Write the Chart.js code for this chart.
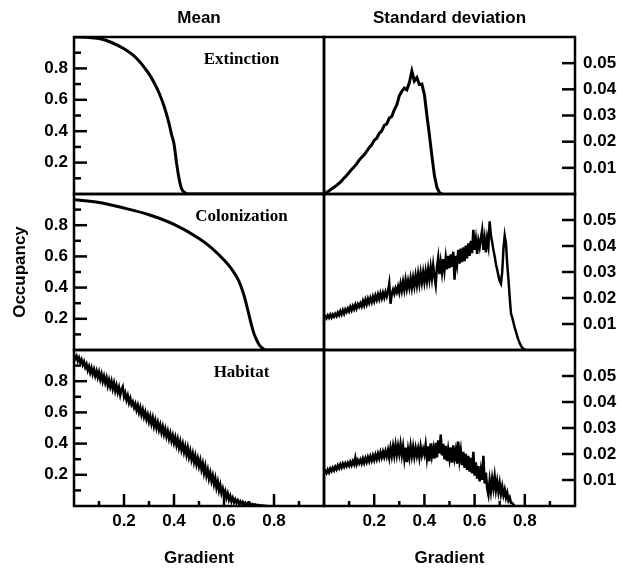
<!DOCTYPE html>
<html>
<head>
<meta charset="utf-8">
<title>Occupancy along a gradient</title>
<script src="https://cdn.jsdelivr.net/npm/chart.js@4.4.0/dist/chart.umd.min.js"></script>
<style>
  html, body { margin: 0; padding: 0; background: #fff; }
  #wrap { position: relative; width: 630px; height: 570px; }
  #wrap canvas { position: absolute; left: 0; top: 0; }
</style>
</head>
<body>
<div id="wrap">
  <canvas id="extMean" width="630" height="570"></canvas>
  <canvas id="extSd" width="630" height="570"></canvas>
  <canvas id="colMean" width="630" height="570"></canvas>
  <canvas id="colSd" width="630" height="570"></canvas>
  <canvas id="habMean" width="630" height="570"></canvas>
  <canvas id="habSd" width="630" height="570"></canvas>
</div>
<script>
// tick values
const gradTicks = [0.2, 0.4, 0.6, 0.8];
const gradMinor = [0.1, 0.3, 0.5, 0.7, 0.9];
const occTicks = [0.2, 0.4, 0.6, 0.8];
const occMinor = [0.1, 0.3, 0.5, 0.7, 0.9];
const sdTicks = [0.01, 0.02, 0.03, 0.04, 0.05];

// Extinction - mean (smooth)
const extMeanX = [0, 0.05, 0.10, 0.15, 0.20, 0.25, 0.30, 0.32, 0.34, 0.36, 0.38, 0.39, 0.40, 0.41, 0.42, 0.43, 0.44, 0.45, 0.46, 1.0];
const extMeanY = [1.0, 0.998, 0.99, 0.965, 0.925, 0.865, 0.765, 0.71, 0.645, 0.56, 0.45, 0.38, 0.32, 0.20, 0.10, 0.035, 0.012, 0.003, 0, 0];

// Colonization - mean (smooth)
const colMeanX = [0, 0.10, 0.20, 0.30, 0.40, 0.50, 0.55, 0.60, 0.63, 0.66, 0.68, 0.69, 0.70, 0.71, 0.72, 0.73, 0.74, 0.75, 0.76, 0.77, 1.0];
const colMeanY = [0.963, 0.945, 0.91, 0.867, 0.805, 0.715, 0.655, 0.577, 0.52, 0.44, 0.35, 0.29, 0.225, 0.16, 0.105, 0.066, 0.035, 0.017, 0.005, 0, 0];

// Extinction - standard deviation, sampled every 0.01 of the gradient
const extSdStep = 0.01;
const extSdY = [
  0.0000, 0.0006, 0.0012, 0.0019, 0.0026, 0.0033, 0.0041, 0.0050, 0.0061, 0.0071,
  0.0082, 0.0094, 0.0104, 0.0115, 0.0129, 0.0140, 0.0150, 0.0163, 0.0177, 0.0188,
  0.0205, 0.0213, 0.0232, 0.0241, 0.0262, 0.0268, 0.0290, 0.0296, 0.0322, 0.0340,
  0.0375, 0.0392, 0.0405, 0.0398, 0.0425, 0.0470, 0.0432, 0.0445, 0.0418, 0.0420,
  0.0380, 0.0300, 0.0225, 0.0145, 0.0070, 0.0025, 0.0005, 0.0000
];

// noisy series, sampled every 0.005 of the gradient
const noisyStep = 0.005;
const colSdY = [
  0.0118, 0.0130, 0.0122, 0.0133, 0.0124, 0.0136, 0.0125, 0.0137, 0.0128, 0.0139,
  0.0130, 0.0144, 0.0134, 0.0149, 0.0137, 0.0153, 0.0140, 0.0156, 0.0146, 0.0160,
  0.0149, 0.0166, 0.0153, 0.0169, 0.0157, 0.0174, 0.0160, 0.0176, 0.0166, 0.0180,
  0.0168, 0.0188, 0.0172, 0.0193, 0.0176, 0.0197, 0.0181, 0.0200, 0.0184, 0.0205,
  0.0188, 0.0209, 0.0193, 0.0214, 0.0196, 0.0218, 0.0199, 0.0220, 0.0202, 0.0223,
  0.0206, 0.0226, 0.0256, 0.0178, 0.0215, 0.0232, 0.0216, 0.0237, 0.0222, 0.0244,
  0.0222, 0.0255, 0.0228, 0.0262, 0.0232, 0.0270, 0.0236, 0.0266, 0.0240, 0.0275,
  0.0240, 0.0278, 0.0246, 0.0285, 0.0250, 0.0292, 0.0255, 0.0296, 0.0260, 0.0298,
  0.0262, 0.0302, 0.0266, 0.0310, 0.0272, 0.0318, 0.0276, 0.0325, 0.0282, 0.0250,
  0.0320, 0.0356, 0.0292, 0.0338, 0.0298, 0.0350, 0.0305, 0.0355, 0.0310, 0.0362,
  0.0315, 0.0368, 0.0320, 0.0378, 0.0270, 0.0362, 0.0328, 0.0385, 0.0332, 0.0390,
  0.0338, 0.0395, 0.0342, 0.0402, 0.0352, 0.0410, 0.0362, 0.0420, 0.0372, 0.0462,
  0.0385, 0.0425, 0.0370, 0.0420, 0.0395, 0.0430, 0.0460, 0.0385, 0.0428, 0.0375,
  0.0430, 0.0400, 0.0495, 0.0440, 0.0415, 0.0385, 0.0360, 0.0330, 0.0310, 0.0285,
  0.0265, 0.0255, 0.0300, 0.0390, 0.0440, 0.0410, 0.0330, 0.0270, 0.0200, 0.0140,
  0.0125, 0.0105, 0.0085, 0.0070, 0.0052, 0.0038, 0.0026, 0.0016, 0.0009, 0.0004,
  0.0001, 0.0000
];
const habMeanY = [
  0.965, 0.945, 0.962, 0.930, 0.950, 0.918, 0.938, 0.905, 0.926, 0.890,
  0.910, 0.870, 0.895, 0.855, 0.885, 0.845, 0.875, 0.835, 0.865, 0.825,
  0.858, 0.812, 0.845, 0.798, 0.832, 0.790, 0.822, 0.772, 0.808, 0.765,
  0.800, 0.752, 0.788, 0.738, 0.772, 0.728, 0.760, 0.712, 0.748, 0.765,
  0.700, 0.725, 0.680, 0.708, 0.662, 0.690, 0.650, 0.668, 0.632, 0.655,
  0.615, 0.645, 0.600, 0.632, 0.585, 0.618, 0.572, 0.602, 0.555, 0.585,
  0.540, 0.575, 0.528, 0.565, 0.512, 0.548, 0.500, 0.535, 0.488, 0.520,
  0.472, 0.508, 0.460, 0.494, 0.446, 0.480, 0.432, 0.466, 0.418, 0.452,
  0.405, 0.440, 0.390, 0.428, 0.375, 0.412, 0.360, 0.398, 0.345, 0.382,
  0.330, 0.372, 0.315, 0.352, 0.298, 0.336, 0.282, 0.322, 0.268, 0.305,
  0.255, 0.292, 0.235, 0.272, 0.212, 0.255, 0.195, 0.232, 0.175, 0.212,
  0.160, 0.195, 0.140, 0.178, 0.118, 0.155, 0.100, 0.135, 0.082, 0.112,
  0.070, 0.095, 0.052, 0.080, 0.040, 0.065, 0.030, 0.052, 0.024, 0.042,
  0.020, 0.036, 0.014, 0.030, 0.012, 0.026, 0.010, 0.022, 0.008, 0.018,
  0.006, 0.015, 0.004, 0.012, 0.003, 0.010, 0.002, 0.008, 0.002, 0.006,
  0.001, 0.004, 0.000, 0.002, 0.000, 0.000
];
const habSdY = [
  0.0124, 0.0135, 0.0126, 0.0140, 0.0129, 0.0144, 0.0134, 0.0147, 0.0137, 0.0151,
  0.0141, 0.0156, 0.0145, 0.0160, 0.0148, 0.0163, 0.0151, 0.0164, 0.0153, 0.0166,
  0.0155, 0.0170, 0.0157, 0.0172, 0.0160, 0.0186, 0.0161, 0.0176, 0.0164, 0.0178,
  0.0164, 0.0182, 0.0166, 0.0184, 0.0169, 0.0188, 0.0172, 0.0191, 0.0175, 0.0194,
  0.0177, 0.0197, 0.0180, 0.0201, 0.0183, 0.0206, 0.0187, 0.0208, 0.0189, 0.0211,
  0.0191, 0.0215, 0.0186, 0.0223, 0.0193, 0.0229, 0.0195, 0.0234, 0.0197, 0.0231,
  0.0200, 0.0237, 0.0195, 0.0229, 0.0182, 0.0225, 0.0169, 0.0218, 0.0187, 0.0231,
  0.0193, 0.0227, 0.0190, 0.0223, 0.0194, 0.0221, 0.0187, 0.0228, 0.0195, 0.0219,
  0.0198, 0.0235, 0.0185, 0.0229, 0.0172, 0.0241, 0.0193, 0.0222, 0.0182, 0.0243,
  0.0187, 0.0253, 0.0202, 0.0275, 0.0195, 0.0239, 0.0179, 0.0231, 0.0173, 0.0218,
  0.0182, 0.0225, 0.0167, 0.0233, 0.0185, 0.0215, 0.0163, 0.0248, 0.0177, 0.0213,
  0.0157, 0.0208, 0.0147, 0.0201, 0.0139, 0.0193, 0.0132, 0.0185, 0.0125, 0.0208,
  0.0117, 0.0168, 0.0105, 0.0153, 0.0095, 0.0138, 0.0101, 0.0193, 0.0087, 0.0128,
  0.0067, 0.0043, 0.0098, 0.0057, 0.0105, 0.0069, 0.0113, 0.0062, 0.0095, 0.0055,
  0.0088, 0.0047, 0.0075, 0.0042, 0.0063, 0.0032, 0.0051, 0.0022, 0.0033, 0.0012,
  0.0012, 0.0005, 0.0000
];

const W = 630, H = 570;
const colEdges = [74, 324, 575];
const rowEdges = [37, 194, 350, 506];
const sansBold = { family: '"Liberation Sans", Arial, sans-serif', size: 17, weight: 'bold' };

function pairs(xs, ys) { return xs.map((x, i) => ({ x: x, y: ys[i] })); }
function stepped(step, ys) { return ys.map((y, i) => ({ x: i * step, y: y })); }

// box, inward tick marks and the in-panel / column labels
const panelBox = {
  id: 'panelBox',
  afterDatasetsDraw(chart, args, opts) {
    const { ctx, chartArea: a, scales } = chart;
    ctx.save();
    ctx.strokeStyle = '#000';
    ctx.lineWidth = 2.5;
    (opts.marks || []).forEach(m => {
      const s = scales[m.axis];
      m.values.forEach(v => {
        const p = s.getPixelForValue(v);
        ctx.beginPath();
        if (m.axis === 'x') { ctx.moveTo(p, a.bottom); ctx.lineTo(p, a.bottom - m.len); }
        else if (m.side === 'left') { ctx.moveTo(a.left, p); ctx.lineTo(a.left + m.len, p); }
        else { ctx.moveTo(a.right, p); ctx.lineTo(a.right - m.len, p); }
        ctx.stroke();
      });
    });
    ctx.strokeRect(a.left, a.top, a.right - a.left, a.bottom - a.top);
    ctx.fillStyle = '#000';
    ctx.textAlign = 'center';
    ctx.textBaseline = 'middle';
    if (opts.label) {
      ctx.font = 'bold 17px "Liberation Serif", "Times New Roman", serif';
      ctx.fillText(opts.label, a.left + 0.67 * (a.right - a.left), a.top + 23);
    }
    if (opts.heading) {
      ctx.font = 'bold 17px "Liberation Sans", Arial, sans-serif';
      ctx.fillText(opts.heading, (a.left + a.right) / 2, a.top - 19);
    }
    ctx.restore();
  }
};

function panel(id, cfg) {
  const left = colEdges[cfg.col], right = colEdges[cfg.col + 1];
  const top = rowEdges[cfg.row], bottom = rowEdges[cfg.row + 1];
  const isLeft = cfg.col === 0, isBottom = cfg.row === 2;
  const yTicks = isLeft ? occTicks : sdTicks;

  const marks = [];
  if (isLeft) {
    marks.push({ axis: 'y', side: 'left', values: occTicks, len: 13 });
    marks.push({ axis: 'y', side: 'left', values: occMinor, len: 7 });
  } else {
    marks.push({ axis: 'y', side: 'right', values: sdTicks, len: 13 });
  }
  if (isBottom) {
    marks.push({ axis: 'x', values: gradTicks, len: 12 });
    marks.push({ axis: 'x', values: gradMinor, len: 5 });
  }

  new Chart(document.getElementById(id), {
    type: 'line',
    data: {
      datasets: [{
        data: cfg.points,
        borderColor: '#000',
        borderWidth: cfg.width,
        pointRadius: 0,
        fill: false,
        tension: 0,
        cubicInterpolationMode: cfg.smooth ? 'monotone' : 'default'
      }]
    },
    options: {
      responsive: false,
      animation: false,
      devicePixelRatio: 1,
      layout: {
        padding: {
          left: isLeft ? 0 : left,
          right: isLeft ? W - right : 0,
          top: top,
          bottom: isBottom ? 0 : H - bottom
        }
      },
      plugins: {
        legend: { display: false },
        tooltip: { enabled: false },
        panelBox: { marks: marks, label: cfg.label, heading: cfg.heading }
      },
      scales: {
        x: {
          type: 'linear', min: 0, max: 1,
          display: isBottom,
          grid: { display: false, drawTicks: false },
          border: { display: false },
          afterBuildTicks: s => { s.ticks = gradTicks.map(v => ({ value: v })); },
          afterFit: s => { s.height = isBottom ? H - bottom : 0; },
          ticks: { font: sansBold, color: '#000', padding: 5, autoSkip: false, maxRotation: 0, callback: v => String(v) },
          title: { display: isBottom, text: 'Gradient', font: sansBold, color: '#000', padding: { top: 0, bottom: 1 } }
        },
        y: {
          type: 'linear', position: isLeft ? 'left' : 'right',
          min: 0, max: isLeft ? 1 : 0.06,
          grid: { display: false, drawTicks: false },
          border: { display: false },
          afterBuildTicks: s => { s.ticks = yTicks.map(v => ({ value: v })); },
          afterFit: s => { s.width = isLeft ? left : W - right; },
          ticks: { font: sansBold, color: '#000', padding: isLeft ? 6 : 8, autoSkip: false, callback: v => String(v) },
          title: { display: !!cfg.yTitle, text: cfg.yTitle || '', font: sansBold, color: '#000', padding: { top: 10, bottom: 0 } }
        }
      }
    },
    plugins: [panelBox]
  });
}

panel('extMean', { col: 0, row: 0, points: pairs(extMeanX, extMeanY), smooth: true, width: 3, label: 'Extinction', heading: 'Mean' });
panel('extSd', { col: 1, row: 0, points: stepped(extSdStep, extSdY), width: 3, heading: 'Standard deviation' });
panel('colMean', { col: 0, row: 1, points: pairs(colMeanX, colMeanY), smooth: true, width: 3, label: 'Colonization', yTitle: 'Occupancy' });
panel('colSd', { col: 1, row: 1, points: stepped(noisyStep, colSdY), width: 2.5 });
panel('habMean', { col: 0, row: 2, points: stepped(noisyStep, habMeanY), width: 2.5, label: 'Habitat' });
panel('habSd', { col: 1, row: 2, points: stepped(noisyStep, habSdY), width: 2.5 });
</script>
</body>
</html>
